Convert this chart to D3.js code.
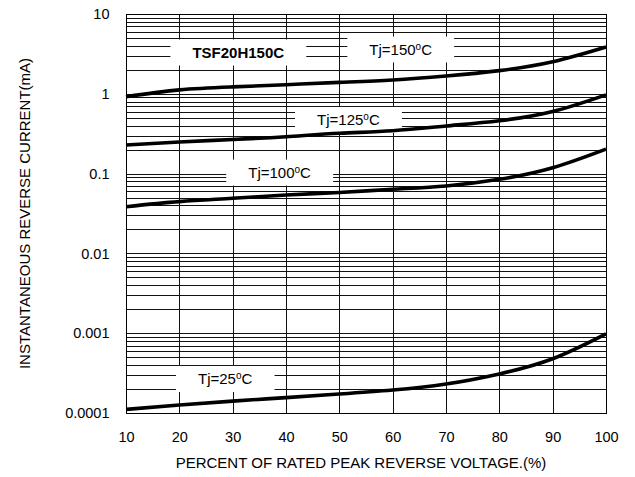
<!DOCTYPE html>
<html>
<head>
<meta charset="utf-8">
<script src="https://cdn.jsdelivr.net/npm/d3@7"></script>
<style>
  body { margin: 0; background: #fff; }
  text { font-family: Arial, "Liberation Sans", sans-serif; fill: #000; }
</style>
</head>
<body>
<div id="chart"></div>
<script>
/* DATA */
const voltagePct = [10, 20, 30, 40, 50, 60, 70, 80, 90, 100];
const tj150 = [0.92, 1.12, 1.22, 1.30, 1.39, 1.49, 1.67, 1.95, 2.52, 3.86];
const tj125 = [0.228, 0.249, 0.267, 0.29, 0.32, 0.345, 0.395, 0.46, 0.60, 0.97];
const tj100 = [0.0385, 0.0445, 0.049, 0.054, 0.058, 0.0636, 0.070, 0.0848, 0.1186, 0.203];
const tj25 = [0.000111, 0.000126, 0.000141, 0.000156, 0.000173, 0.000194, 0.000231, 0.000309, 0.000478, 0.00098];
const yTickValues = [0.0001, 0.001, 0.01, 0.1, 1, 10];
const yTickLabels = ["0.0001", "0.001", "0.01", "0.1", "1", "10"];

// annotation text and where it sits, in data units
const labelText = ["TSF20H150C", "Tj=150", "Tj=125", "Tj=100", "Tj=25"];
const labelX = [31.05, 61.5, 51.7, 38.8, 28.6];
const labelY = [3.29, 3.59, 0.47, 0.103, 0.000267];

/* CONSTANTS */
const width = 635,
  height = 477,
  margin = { top: 14, right: 29, bottom: 64, left: 126 };

const svg = d3.select("#chart")
  .append("svg")
  .attr("width", width)
  .attr("height", height);

const xScale = d3.scaleLinear()
  .domain([10, 100])
  .range([margin.left, width - margin.right]);

const yScale = d3.scaleLog()
  .domain([0.0001, 10])
  .range([height - margin.bottom, margin.top]);

// grid: vertical every 10%, horizontal at every log step
const grid = svg.append("g").attr("class", "grid")
  .attr("stroke", "#111")
  .attr("stroke-width", 1)
  .attr("shape-rendering", "crispEdges");

grid.selectAll(".vgrid")
  .data(voltagePct)
  .join("line")
  .attr("x1", d => Math.round(xScale(d)) + 0.5)
  .attr("x2", d => Math.round(xScale(d)) + 0.5)
  .attr("y1", yScale(10))
  .attr("y2", yScale(0.0001));

const minorVals = [];
yTickValues.slice(0, -1).forEach(dec => {
  for (let k = 1; k <= 9; k++) minorVals.push(dec * k);
});
minorVals.push(10);

grid.selectAll(".hgrid")
  .data(minorVals)
  .join("line")
  .attr("x1", xScale(10))
  .attr("x2", xScale(100))
  .attr("y1", d => Math.round(yScale(d)) + 0.5)
  .attr("y2", d => Math.round(yScale(d)) + 0.5);

// label boxes hide the grid behind them
const labels = svg.append("g").attr("class", "labels");
labelText.forEach((t, i) => {
  const g = labels.append("g");
  const cy = yScale(labelY[i]);
  const txt = g.append("text")
    .attr("x", xScale(labelX[i]))
    .attr("y", cy + 5.4)
    .attr("text-anchor", "middle")
    .style("font-size", "15px")
    .style("font-weight", i === 0 ? "bold" : "normal");
  if (i === 0) {
    txt.text(t);
  } else {
    txt.append("tspan").text(t);
    txt.append("tspan").attr("dy", "-5px").style("font-size", "10px").text("o");
    txt.append("tspan").attr("dy", "5px").text("C");
  }
  const bb = txt.node().getBBox();
  g.insert("rect", "text")
    .attr("x", bb.x - 22)
    .attr("y", cy - 13)
    .attr("width", bb.width + 44)
    .attr("height", 26)
    .attr("fill", "#fff");
});

// curves
const line = d3.line()
  .x((d, i) => xScale(voltagePct[i]))
  .y(d => yScale(d))
  .curve(d3.curveNatural);

svg.append("g")
  .selectAll("path")
  .data([tj150, tj125, tj100, tj25])
  .join("path")
  .attr("d", line)
  .attr("fill", "none")
  .attr("stroke", "#000")
  .attr("stroke-width", 3.6);

// plot border
svg.append("rect")
  .attr("x", xScale(10) + 0.5)
  .attr("y", yScale(10) + 0.5)
  .attr("width", xScale(100) - xScale(10))
  .attr("height", yScale(0.0001) - yScale(10))
  .attr("fill", "none")
  .attr("stroke", "#000")
  .attr("stroke-width", 1);

// axes
const xAxis = d3.axisBottom(xScale).tickValues(voltagePct).tickSize(0).tickPadding(18.5);
svg.append("g")
  .attr("transform", `translate(0,${height - margin.bottom})`)
  .call(xAxis)
  .call(g => g.select(".domain").remove())
  .selectAll("text")
  .style("font-size", "14.5px")
  .style("font-family", "Arial, 'Liberation Sans', sans-serif");

const yAxis = d3.axisLeft(yScale)
  .tickValues(yTickValues)
  .tickFormat((d, i) => yTickLabels[i])
  .tickSize(0)
  .tickPadding(16.5);
svg.append("g")
  .attr("transform", `translate(${margin.left},0)`)
  .call(yAxis)
  .call(g => g.select(".domain").remove())
  .selectAll("text")
  .style("font-size", "14.5px")
  .style("font-family", "Arial, 'Liberation Sans', sans-serif");

svg.append("text")
  .attr("x", 361)
  .attr("y", 467.7)
  .attr("text-anchor", "middle")
  .style("font-size", "15px")
  .text("PERCENT OF RATED PEAK REVERSE VOLTAGE.(%)");

svg.append("text")
  .attr("transform", `translate(30,${(yScale(10) + yScale(0.0001)) / 2}) rotate(-90)`)
  .attr("text-anchor", "middle")
  .style("font-size", "15px")
  .text("INSTANTANEOUS REVERSE CURRENT(mA)");
</script>
</body>
</html>
